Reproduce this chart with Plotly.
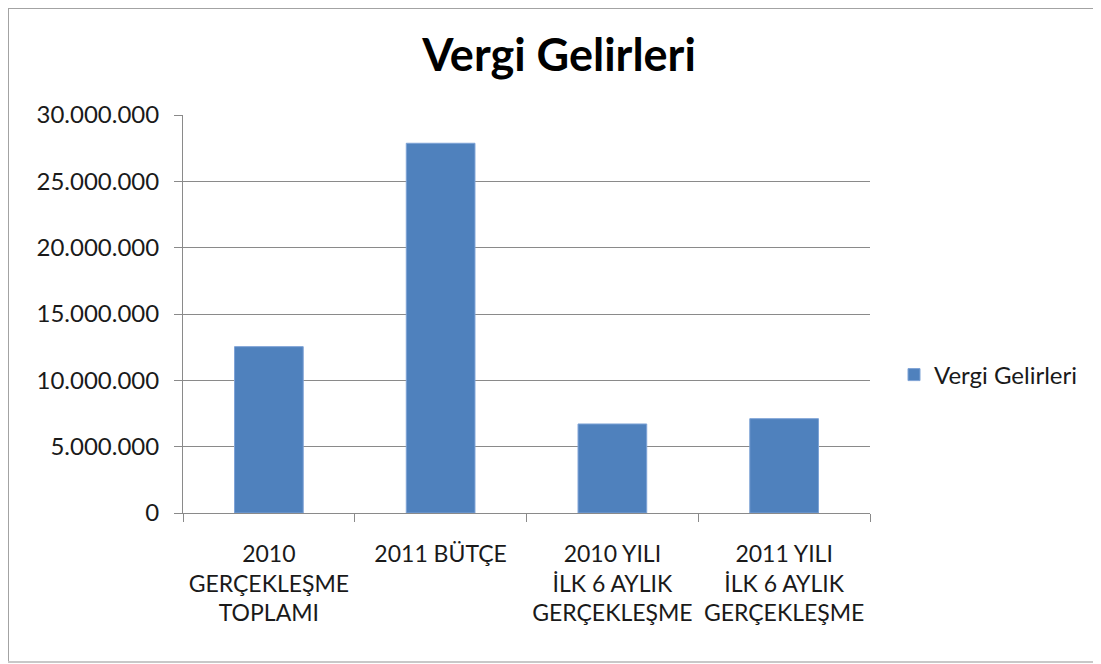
import plotly.graph_objects as go

categories = [
    "2010<br>GERÇEKLEŞME<br>TOPLAMI",
    "2011 BÜTÇE",
    "2010 YILI<br>İLK 6 AYLIK<br>GERÇEKLEŞME",
    "2011 YILI<br>İLK 6 AYLIK<br>GERÇEKLEŞME",
]
values = [12540000, 27870000, 6710000, 7110000]
series_name = "Vergi Gelirleri"
y_ticks = [0, 5000000, 10000000, 15000000, 20000000, 25000000, 30000000]

OFF = 8  # page body margin
W, H = 1101 - OFF, 664 - OFF
L, R, T, B = 183 - OFF, 870 - OFF, 115 - OFF, 513 - OFF

def px_x(p):
    return (p - OFF - L) / (R - L)

def px_y(p):
    return (B - (p - OFF)) / (B - T)

fig = go.Figure()
fig.add_trace(go.Bar(
    x=categories, y=values, name=series_name,
    marker=dict(color="#4f81bd", line=dict(color="#7ea3d6", width=1)),
    showlegend=True,
))

grid = "#8a8a8a"
border = "#a3a3a3"
font_family = "Lato, 'Open Sans', sans-serif"

fx0, fx1, fy0, fy1 = px_x(OFF), px_x(1140), px_y(662), px_y(OFF)

fig.update_layout(
    width=W, height=H,
    margin=dict(l=L, r=W - R, t=T, b=H - B, pad=0, autoexpand=False),
    paper_bgcolor="white",
    plot_bgcolor="white",
    separators=",.",
    font=dict(family=font_family, size=24, color="#1a1a1a"),
    title=dict(text="<b>Vergi Gelirleri</b>", x=(559 - OFF) / W, xanchor="center",
               y=1 - (55 - OFF) / H, yanchor="middle",
               font=dict(family=font_family, size=45, color="#000000")),
    bargap=0.6,
    showlegend=True,
    legend=dict(x=px_x(894), xanchor="left", y=px_y(375), yanchor="middle",
                bgcolor="rgba(0,0,0,0)", itemwidth=30,
                font=dict(family=font_family, size=24, color="#1a1a1a")),
    shapes=[
        dict(type="line", xref="paper", yref="paper", layer="below",
             x0=fx0, x1=fx0, y0=fy0, y1=fy1, line=dict(color=border, width=2)),
        dict(type="line", xref="paper", yref="paper", layer="below",
             x0=fx0, x1=fx1, y0=fy1, y1=fy1, line=dict(color=border, width=2)),
        dict(type="line", xref="paper", yref="paper", layer="below",
             x0=fx0, x1=fx1, y0=fy0, y1=fy0, line=dict(color="#c8c8c8", width=2)),
    ],
)

fig.update_yaxes(
    range=[0, 30000000], tickvals=y_ticks, tickformat=",d",
    showgrid=True, gridcolor=grid, gridwidth=1,
    showline=True, linecolor=grid, linewidth=1,
    ticks="outside", ticklen=8, tickcolor=grid,
    ticklabelstandoff=10, zeroline=False, automargin=False,
    tickfont=dict(size=24, color="#1a1a1a"),
)
fig.update_xaxes(
    showline=True, linecolor=grid, linewidth=1,
    ticks="outside", ticklen=8, tickcolor=grid, tickson="boundaries",
    showgrid=False, mirror=False, ticklabelstandoff=20, tickangle=0,
    automargin=False,
    tickfont=dict(size=23, color="#1a1a1a"),
)

fig.write_html("out.html")
